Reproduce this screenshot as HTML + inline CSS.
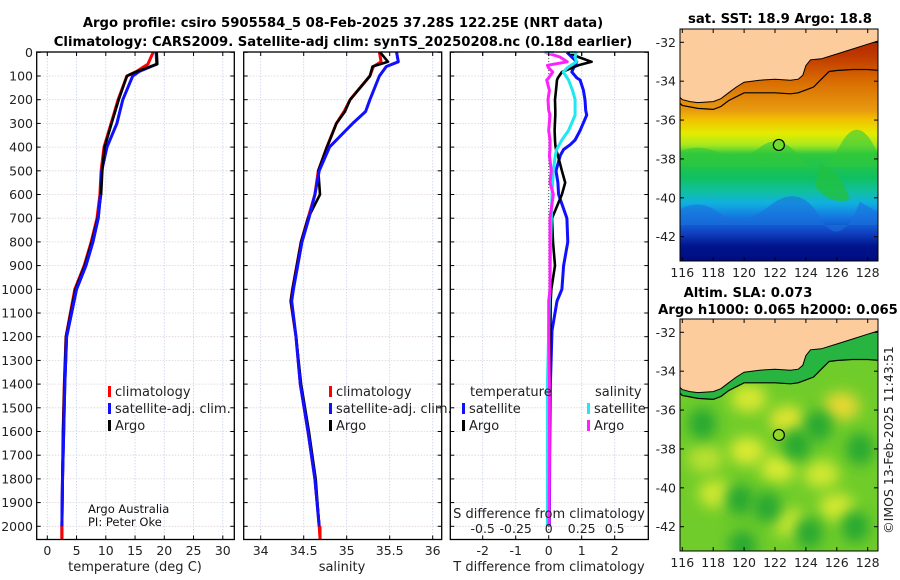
<!DOCTYPE html>
<html><head><meta charset="utf-8">
<style>
html,body{margin:0;padding:0;background:#fff;}
svg{display:block;font-family:"DejaVu Sans","Liberation Sans",sans-serif;}
</style></head>
<body>
<svg id="fig" width="900" height="580" viewBox="0 0 900 580" xmlns="http://www.w3.org/2000/svg">
<defs>
<linearGradient id="sstGrad" gradientUnits="userSpaceOnUse" x1="0" y1="29" x2="0" y2="261">
<stop offset="0" stop-color="#a81800"/>
<stop offset="0.12" stop-color="#c03a00"/>
<stop offset="0.22" stop-color="#d86a00"/>
<stop offset="0.35" stop-color="#e89a10"/>
<stop offset="0.39" stop-color="#f2c000"/>
<stop offset="0.45" stop-color="#e4ec00"/>
<stop offset="0.5" stop-color="#a8e820"/>
<stop offset="0.54" stop-color="#30c83c"/>
<stop offset="0.64" stop-color="#10c060"/>
<stop offset="0.70" stop-color="#10c0a0"/>
<stop offset="0.75" stop-color="#10b0e0"/>
<stop offset="0.81" stop-color="#1478e0"/>
<stop offset="0.88" stop-color="#1040c0"/>
<stop offset="0.935" stop-color="#00148c"/>
<stop offset="1" stop-color="#000c80"/>
</linearGradient>
<filter id="blur" x="-50%" y="-50%" width="200%" height="200%"><feGaussianBlur stdDeviation="7"/></filter>
<clipPath id="clip1"><rect x="680" y="29" width="198" height="232"/></clipPath>
<clipPath id="clip2"><rect x="680" y="319" width="198" height="232"/></clipPath>
</defs>
<g id="root"></g>
</svg>
<script>
// ---------- data ----------
const depthT = [0,50,80,100,200,300,400,500,600,700,800,900,1000,1200,1400,1600,1800,2000,2050];
const tempClim = [18.1,17.2,15.3,13.6,12.1,10.9,9.7,9.2,9.0,8.5,7.5,6.3,4.7,3.2,2.9,2.7,2.6,2.5,2.5];
const tempSat  = [18.6,18.7,15.8,14.6,12.9,11.9,10.2,9.3,9.1,8.7,7.8,6.6,5.0,3.3,3.0,2.8,2.6,2.5,2.5];
const tempArgo = [18.7,18.8,15.4,13.6,12.2,11.0,9.8,9.4,9.2,8.6,7.6,6.4,4.8,3.2,2.9,2.7,2.6,2.5,2.5];

const depthS = [0,40,60,100,200,250,300,400,500,600,700,800,900,1000,1050,1200,1400,1600,1800,2000,2050];
const salClim = [35.38,35.40,35.31,35.27,35.04,34.97,34.88,34.77,34.67,34.63,34.55,34.47,34.42,34.37,34.35,34.41,34.46,34.55,34.63,34.68,34.69];
const salSat  = [35.58,35.60,35.46,35.38,35.27,35.22,35.07,34.80,34.68,34.63,34.56,34.48,34.43,34.38,34.36,34.41,34.46,34.55,34.63,34.68,34.69];
const salArgo = [35.39,35.48,35.30,35.27,35.04,34.98,34.88,34.77,34.67,34.69,34.55,34.47,34.42,34.37,34.35,34.41,34.47,34.56,34.64,34.68,34.68];

const depthD = [0,20,40,55,66,83,108,117,160,200,245,265,330,370,390,410,435,500,550,600,700,800,900,1000,1050,1175,1400,1700,2000];
const dTArgo = [0.6,0.9,1.3,0.9,0.7,0.4,0.28,0.25,0.22,0.19,0.2,0.2,0.18,0.19,0.2,0.22,0.28,0.4,0.5,0.4,0.1,0.13,0.19,0.08,0.06,0.05,0.03,0.02,0.0];
const dTSat  = [0.55,0.7,0.85,0.8,0.75,0.7,0.85,0.95,1.05,1.1,1.12,1.15,0.95,0.8,0.65,0.45,0.35,0.22,0.28,0.3,0.55,0.58,0.45,0.4,0.25,0.1,0.05,0.03,0.02];
const dSSat  = [0.21,0.2,0.21,0.17,0.14,0.11,0.14,0.15,0.18,0.2,0.2,0.2,0.15,0.1,0.08,0.06,0.05,0.035,0.03,0.025,0.02,0.015,0.012,0.01,0.005,0.0,-0.01,-0.01,-0.01];
const dSArgo = [-0.028,0.085,0.14,-0.01,0.0,0.03,0.0,-0.015,0.005,-0.005,0.0,0.01,0.0,0.01,0.01,0.01,0.005,0.02,0.01,0.035,0.01,0.01,0.01,0.01,0.0,0.0,0.005,0.005,0.003];

const depthTicks = [0,100,200,300,400,500,600,700,800,900,1000,1100,1200,1300,1400,1500,1600,1700,1800,1900,2000];
const tTicks = [0,5,10,15,20,25,30];
const sTicks = [34,34.5,35,35.5,36];
const sTickLabels = ["34","34.5","35","35.5","36"];
const dTTicks = [-2,-1,0,1,2];
const dSTicks = [-0.5,-0.25,0,0.25,0.5];
const lonTicks = [116,118,120,122,124,126,128];
const latTicks = [-32,-34,-36,-38,-40,-42];

// ---------- helpers ----------
const NS = "http://www.w3.org/2000/svg";
const root = document.getElementById('root');
function mk(tag, attrs, parent, text){
  const e = document.createElementNS(NS, tag);
  for (const k in attrs) e.setAttribute(k, attrs[k]);
  if (text !== undefined) e.textContent = text;
  (parent || root).appendChild(e);
  return e;
}
const yD = d => 52.3 + d*0.237;
const PT = 539.5;

function panel(name, x0, x1, xs, xticks, xlabels, showDepth){
  const g = mk('g', {});
  
  
  depthTicks.forEach(d => {
    const l = mk('line', {x1:x0, x2:x1, y1:yD(d), y2:yD(d), stroke:'#ddd0d8', 'stroke-width':0.8, 'stroke-dasharray':'1.5,1.5'}, g);
    
    
  });
  xticks.forEach(v => {
    const x = xs(v);
    const l = mk('line', {x1:x, x2:x, y1:52, y2:PT, stroke:'#c8cff0', 'stroke-width':0.8, 'stroke-dasharray':'1.5,1.5'}, g);
    
    
  });
  depthTicks.forEach(d => {
    mk('line', {x1:x0, x2:x0+4, y1:yD(d), y2:yD(d), stroke:'#000', 'stroke-width':1}, g);
    mk('line', {x1:x1-4, x2:x1, y1:yD(d), y2:yD(d), stroke:'#000', 'stroke-width':1}, g);
    if (showDepth){
      const t = mk('text', {x:33, y:yD(d)+4.5, 'text-anchor':'end', 'font-size':12.5, fill:'#222'}, g, String(d));
      
      
    }
  });
  xticks.forEach((v,i) => {
    const x = xs(v);
    mk('line', {x1:x, x2:x, y1:PT-4, y2:PT, stroke:'#000', 'stroke-width':1}, g);
    mk('line', {x1:x, x2:x, y1:52, y2:56, stroke:'#000', 'stroke-width':1}, g);
    if (xlabels){
      const t = mk('text', {x:x, y:555, 'text-anchor':'middle', 'font-size':12.5, fill:'#222'}, g, xlabels[i]);
      
      
    }
  });
  return g;
}
function frame(x0,x1){
  const r = mk('rect', {x:x0, y:52, width:x1-x0, height:PT-52, fill:'none', stroke:'#000', 'stroke-width':1.3});
  
  
}
function series(name, depths, vals, xs, color, w){
  const pts = depths.map((d,i) => xs(vals[i]).toFixed(1)+','+yD(d).toFixed(1)).join(' ');
  const p = mk('polyline', {points:pts, fill:'none', stroke:color, 'stroke-width':w, 'stroke-linejoin':'round'});
  
  
}
function txt(name, x, y, s, attrs){
  const a = Object.assign({x:x, y:y, 'font-size':12.5, fill:'#222'}, attrs||{});
  const t = mk('text', a, root, s);
  
  
  return t;
}
function legendItem(name, mx, y, color, label){
  const r = mk('rect', {x:mx, y:y-10, width:3, height:11, fill:color});
  
  
  txt(name, mx+7, y, label, {'font-size':13});
}

// ---------- panel 1: temperature ----------
const xT = v => 47.3 + v*5.85;
panel('temperature-panel', 36.7, 234.3, xT, tTicks, tTicks.map(String), true);
series('temp-climatology-line', depthT, tempClim, xT, '#ff0000', 3);
series('temp-satellite-line', depthT, tempSat, xT, '#1010ff', 3);
series('temp-argo-line', depthT.slice(0,-1), tempArgo.slice(0,-1), xT, '#000', 2.6);
series('temp-sat-overlay', depthT.slice(8,-1), tempSat.slice(8,-1), xT, '#1010ff', 3);
mk('line',{x1:xT(2.5),x2:xT(2.5),y1:yD(2000),y2:PT,stroke:'#ff0000','stroke-width':3});
frame(36.7, 234.3);
legendItem('legend-climatology', 108, 396, '#ff0000', 'climatology');
legendItem('legend-satellite-adj', 108, 413, '#1010ff', 'satellite-adj. clim.');
legendItem('legend-argo', 108, 430, '#000', 'Argo');
txt('credit-argo-australia', 88, 513, 'Argo Australia', {'font-size':11.5, fill:'#111'});
txt('credit-pi', 88, 526, 'PI: Peter Oke', {'font-size':11.5, fill:'#111'});
txt('x-axis-title-temperature', 135, 571, 'temperature (deg C)', {'text-anchor':'middle', 'font-size':13});

// ---------- panel 2: salinity ----------
const xS = v => 260.7 + (v-34)*86;
panel('salinity-panel', 243.7, 441.7, xS, sTicks, sTickLabels, false);
series('sal-climatology-line', depthS, salClim, xS, '#ff0000', 3);
series('sal-argo-line', depthS.slice(0,-1), salArgo.slice(0,-1), xS, '#000', 2.6);
series('sal-satellite-line', depthS.slice(0,-1), salSat.slice(0,-1), xS, '#1010ff', 3);
mk('line',{x1:xS(34.69),x2:xS(34.69),y1:yD(2000),y2:PT,stroke:'#ff0000','stroke-width':3});
frame(243.7, 441.7);
legendItem('legend-climatology-2', 329, 396, '#ff0000', 'climatology');
legendItem('legend-satellite-adj-2', 329, 413, '#1010ff', 'satellite-adj. clim.');
legendItem('legend-argo-2', 329, 430, '#000', 'Argo');
txt('x-axis-title-salinity', 342, 571, 'salinity', {'text-anchor':'middle', 'font-size':13});

// ---------- panel 3: differences ----------
const xDT = v => 548.7 + v*33;
const xDS = v => 548.7 + v*132;
panel('difference-panel', 450.3, 648.3, xDT, dTTicks, dTTicks.map(String), false);
mk('line',{x1:548.7,x2:548.7,y1:52,y2:PT,stroke:'#555','stroke-width':1,'stroke-dasharray':'1,2'});
series('dT-satellite-line', depthD, dTSat, xDT, '#1010ff', 3);
series('dT-argo-line', depthD, dTArgo, xDT, '#000', 2.6);
series('dS-satellite-line', depthD, dSSat, xDS, '#20e8f0', 3);
series('dS-argo-line', depthD, dSArgo, xDS, '#ff20ff', 3);
mk('line',{x1:xDS(0.04),x2:xDS(-0.03),y1:52.5,y2:52.5,stroke:'#20e8f0','stroke-width':3});
mk('line',{x1:xDS(0.21),x2:xDS(0.16),y1:52.5,y2:52.5,stroke:'#20e8f0','stroke-width':3});
frame(450.3, 648.3);
dSTicks.forEach(v => {
  mk('line',{x1:xDS(v),x2:xDS(v),y1:52,y2:56,stroke:'#000'});
});
txt('S-diff-axis-title', 549, 518, 'S difference from climatology', {'text-anchor':'middle','font-size':13});
dSTicks.forEach((v,i) => {
  txt('S-diff-tick-label', xDS(v), 533, ['-0.5','-0.25','0','0.25','0.5'][i], {'text-anchor':'middle','font-size':12.5});
});
txt('legend-temperature-header', 470, 396, 'temperature', {'font-size':13});
legendItem('legend-T-satellite', 462, 413, '#1010ff', 'satellite');
legendItem('legend-T-argo', 462, 430, '#000', 'Argo');
txt('legend-salinity-header', 595, 396, 'salinity', {'font-size':13});
legendItem('legend-S-satellite', 587, 413, '#20e8f0', 'satellite');
legendItem('legend-S-argo', 587, 430, '#ff20ff', 'Argo');
txt('x-axis-title-T-diff', 549, 571, 'T difference from climatology', {'text-anchor':'middle','font-size':13});

// ---------- titles ----------
txt('figure-title-line1', 343, 27, 'Argo profile: csiro 5905584_5 08-Feb-2025 37.28S 122.25E (NRT data)', {'text-anchor':'middle','font-size':13.2,'font-weight':'bold',fill:'#000'});
txt('figure-title-line2', 343, 46, 'Climatology: CARS2009. Satellite-adj clim: synTS_20250208.nc (0.18d earlier)', {'text-anchor':'middle','font-size':13.2,'font-weight':'bold',fill:'#000'});

// ---------- maps ----------
const coastLon = [115.8,116,116.5,117,118,118.5,119,119.5,120,121,122,123,123.5,123.8,124,124.3,125,126,127,128,128.8];
const coastLat = [-34.8,-34.95,-35.05,-35.1,-35.05,-34.9,-34.6,-34.3,-34.05,-33.95,-33.9,-33.95,-33.9,-33.7,-33.2,-32.9,-32.85,-32.6,-32.35,-32.1,-31.9];
const isoLon = [115.8,116,117,118,118.5,119,119.5,120,121,122,123,123.5,124,124.5,125,125.5,126,127,128,128.8];
const isoLat = [-35.1,-35.25,-35.4,-35.45,-35.3,-35.0,-34.8,-34.6,-34.6,-34.6,-34.65,-34.6,-34.45,-34.3,-33.9,-33.5,-33.45,-33.4,-33.4,-33.45];
const argoLon = 122.25, argoLat = -37.28;

function drawMap(name, top, latTop, kind){
  const xL = lon => 682.3 + (lon-116)*15.45;
  const yL = lat => latTop + (-32-lat)*19.44;
  const g = mk('g', {});
  
  
  const cg = mk('g', {'clip-path':'url(#'+(kind==='sst'?'clip1':'clip2')+')'}, g);
  if (kind === 'sst'){
    mk('rect',{x:680,y:top,width:198,height:232,fill:'url(#sstGrad)'},cg);
    mk('path',{d:'M680 '+(yL(-37.6))+' Q700 '+yL(-37.2)+' 720 '+yL(-37.7)+' T760 '+yL(-37.4)+' T800 '+yL(-37.9)+' T840 '+yL(-37.3)+' T880 '+yL(-38.0)+' L880 '+yL(-38.4)+' L680 '+yL(-38.4)+' Z',fill:'#30c83c',opacity:0.6},cg);
    mk('path',{d:'M680 '+yL(-40.6)+' Q700 '+yL(-40.0)+' 720 '+yL(-40.8)+' T770 '+yL(-40.4)+' T820 '+yL(-41.0)+' T860 '+yL(-40.2)+' L880 '+yL(-40.8)+' L880 '+yL(-41.4)+' L680 '+yL(-41.4)+' Z',fill:'#1a70dc',opacity:0.6},cg);
    mk('path',{d:'M820 '+yL(-38.3)+' Q840 '+yL(-38.6)+' 850 '+yL(-40.1)+' Q830 '+yL(-40.4)+' 815 '+yL(-39.4)+' Z',fill:'#22c040',opacity:0.8},cg);
  } else {
    mk('rect',{x:680,y:top,width:198,height:232,fill:'#70cc2a'},cg);
    const blobs = [[120.3,-35.4,'#d8e830'],[126.3,-35.8,'#e8d830'],[122.8,-36.5,'#e0e430'],[120.2,-38.1,'#dcea30'],[122.2,-39,'#d8ea30'],[125,-39.3,'#d0e830'],[118.2,-40.3,'#d0e830'],[123,-41.8,'#c8e630'],[126,-41,'#d4e830'],[117.5,-38.5,'#b8e030']];
    blobs.forEach(b => mk('ellipse',{cx:xL(b[0]),cy:yL(b[1]),rx:18,ry:14,fill:b[2],filter:'url(#blur)'},cg));
    const dark = [[117.3,-36.7],[123.4,-37.8],[119.7,-40.6],[121.5,-41],[124.2,-42.3],[127.2,-42],[127.5,-38],[124.8,-36.8],[119.9,-43]];
    dark.forEach(b => mk('ellipse',{cx:xL(b[0]),cy:yL(b[1]),rx:14,ry:16,fill:'#28a830',filter:'url(#blur)'},cg));
    const shelf = isoLon.map((l,i)=>xL(l)+','+yL(isoLat[i])).join(' ');
    const coastR = coastLon.slice().reverse().map((l,i)=>xL(l)+','+yL(coastLat[coastLat.length-1-i])).join(' ');
    mk('polygon',{points:shelf+' '+coastR,fill:'#28b440'},cg);
  }
  const landPts = coastLon.map((l,i)=>xL(l).toFixed(1)+','+yL(coastLat[i]).toFixed(1)).join(' ');
  const land = mk('polygon',{points:'680,'+top+' '+landPts+' 880,'+top,fill:'#fccc9c'},cg);
  
  
  const cl = mk('polyline',{points:landPts,fill:'none',stroke:'#000','stroke-width':1},cg);
  
  
  const iso = mk('polyline',{points:isoLon.map((l,i)=>xL(l).toFixed(1)+','+yL(isoLat[i]).toFixed(1)).join(' '),fill:'none',stroke:'#000','stroke-width':1.2},cg);
  
  
  const c = mk('circle',{cx:xL(argoLon),cy:yL(argoLat),r:5.5,fill:kind==='sst'?'#70dc30':'#90d828',stroke:'#000','stroke-width':1.2},g);
  
  
  mk('rect',{x:680,y:top,width:198,height:232,fill:'none',stroke:'#000','stroke-width':1},g);
  lonTicks.forEach(l => {
    mk('line',{x1:xL(l),x2:xL(l),y1:top+232,y2:top+228,stroke:'#000'},g);
    mk('line',{x1:xL(l),x2:xL(l),y1:top,y2:top+4,stroke:'#000'},g);
    const t = mk('text',{x:xL(l),y:top+248,'text-anchor':'middle','font-size':12.5,fill:'#222'},g,String(l));
    
    
  });
  latTicks.forEach(la => {
    mk('line',{x1:680,x2:684,y1:yL(la),y2:yL(la),stroke:'#000'},g);
    mk('line',{x1:874,x2:878,y1:yL(la),y2:yL(la),stroke:'#000'},g);
    const t = mk('text',{x:676,y:yL(la)+4.5,'text-anchor':'end','font-size':12.5,fill:'#222'},g,String(la));
    
    
  });
}
drawMap('sst-map', 29, 42.3, 'sst');
drawMap('sla-map', 319, 332.3, 'sla');
txt('sst-map-title', 780, 23, 'sat. SST: 18.9 Argo: 18.8', {'text-anchor':'middle','font-size':13.2,'font-weight':'bold',fill:'#000'});
txt('sla-map-title-line1', 748, 297, 'Altim. SLA: 0.073', {'text-anchor':'middle','font-size':13.2,'font-weight':'bold',fill:'#000'});
txt('sla-map-title-line2', 778, 314, 'Argo h1000: 0.065 h2000: 0.065', {'text-anchor':'middle','font-size':13.2,'font-weight':'bold',fill:'#000'});
txt('timestamp-credit', 0, 0, '©IMOS 13-Feb-2025 11:43:51', {'text-anchor':'middle','font-size':12.5,fill:'#222',transform:'translate(893,440) rotate(-90)'});
</script>
</body></html>
